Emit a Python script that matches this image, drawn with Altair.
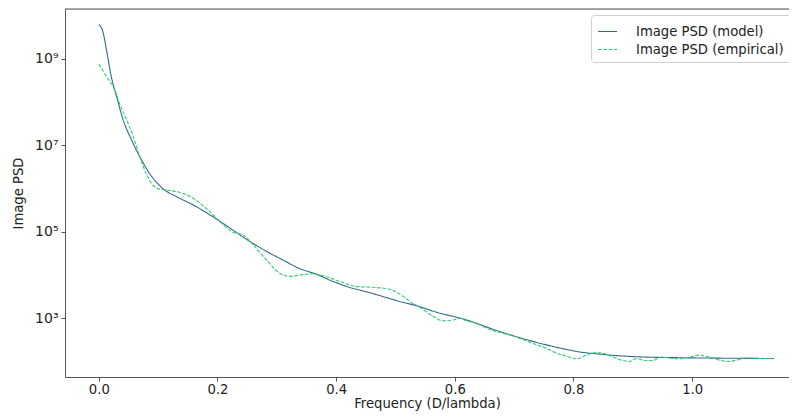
import altair as alt
import pandas as pd

# Model curve
freq_model = [0.0, 0.006, 0.013, 0.021, 0.030, 0.041, 0.055, 0.069, 0.086, 0.108,
              0.131, 0.159, 0.193, 0.226, 0.256, 0.283, 0.311, 0.339, 0.362, 0.395,
              0.424, 0.451, 0.507, 0.541, 0.564, 0.620, 0.676, 0.732, 0.788, 0.810,
              0.844, 0.868, 0.923, 0.979, 1.050, 1.138]
psd_model = [6.2e9, 4.7e9, 1.6e9, 3.9e8, 1.35e8, 3.9e7, 1.35e7, 5.5e6, 2.2e6, 1.0e6,
             6.5e5, 4.2e5, 2.2e5, 1.1e5, 5.8e4, 3.5e4, 2.2e4, 1.4e4, 1.1e4, 7.1e3,
             5.1e3, 4.1e3, 2.45e3, 1.85e3, 1.45e3, 9.1e2, 4.9e2, 2.9e2, 1.9e2, 1.66e2,
             1.48e2, 1.38e2, 1.26e2, 1.22e2, 1.19e2, 1.17e2]

# Empirical curve
freq_emp = [0.0, 0.013, 0.027, 0.035, 0.047, 0.058, 0.069, 0.080, 0.089, 0.100,
            0.114, 0.137, 0.159, 0.176, 0.193, 0.210, 0.226, 0.243, 0.260, 0.283,
            0.305, 0.322, 0.339, 0.360, 0.384, 0.406, 0.434, 0.462, 0.490, 0.513,
            0.524, 0.541, 0.564, 0.580, 0.597, 0.608, 0.620, 0.637, 0.653, 0.676,
            0.698, 0.715, 0.732, 0.755, 0.772, 0.783, 0.805, 0.822, 0.838, 0.850,
            0.867, 0.884, 0.895, 0.906, 0.923, 0.934, 0.948, 0.968, 0.982, 0.996,
            1.010, 1.025, 1.047, 1.061, 1.075, 1.092, 1.109, 1.125, 1.138]
psd_emp = [7.6e8, 3.9e8, 1.9e8, 9.3e7, 3.9e7, 1.6e7, 5.5e6, 2.2e6, 1.3e6, 1.0e6,
           9.3e5, 8.1e5, 6.0e5, 4.0e5, 2.45e5, 1.45e5, 9.8e4, 8.5e4, 5.0e4, 2.2e4,
           1.1e4, 9.3e3, 1.0e4, 1.07e4, 9.1e3, 7.1e3, 5.4e3, 5.2e3, 4.7e3, 3.2e3,
           2.45e3, 1.8e3, 1.1e3, 8.7e2, 9.1e2, 1.0e3, 8.7e2, 7.6e2, 5.9e2, 4.7e2,
           3.9e2, 3.2e2, 2.6e2, 2.0e2, 1.55e2, 1.4e2, 1.15e2, 1.4e2, 1.6e2, 1.55e2,
           1.26e2, 1.05e2, 1.0e2, 1.15e2, 1.05e2, 1.05e2, 1.26e2, 1.17e2, 1.15e2, 1.26e2,
           1.4e2, 1.3e2, 1.07e2, 1.0e2, 1.07e2, 1.2e2, 1.17e2, 1.17e2, 1.15e2]

series_names = ["Image PSD (model)", "Image PSD (empirical)"]
series_colors = ["#31688e", "#2ecc71"]
y_ticks = [1e3, 1e5, 1e7, 1e9]
x_ticks = [0.0, 0.2, 0.4, 0.6, 0.8, 1.0]

df = pd.concat([
    pd.DataFrame({"freq": freq_model, "psd": psd_model, "series": series_names[0], "order": 0}),
    pd.DataFrame({"freq": freq_emp, "psd": psd_emp, "series": series_names[1], "order": 1}),
])

W, H = 724, 368
FONT = "DejaVu Sans"

legend_cfg = dict(title=None, orient="none", legendX=526, legendY=6,
                  symbolType="stroke", symbolSize=361, symbolStrokeWidth=1.2,
                  labelOffset=18, rowPadding=1, padding=6, strokeColor="#d0d0d0",
                  cornerRadius=3, fillColor="white", labelFontSize=13.2,
                  labelFont=FONT, labelColor="#222", labelLimit=300)

lines = alt.Chart(df).mark_line(interpolate="monotone", strokeWidth=1.1, clip=True).encode(
    x=alt.X("freq:Q",
            scale=alt.Scale(domain=[-0.057, 1.1633], nice=False, zero=False),
            axis=alt.Axis(values=x_ticks, format=".1f", title="Frequency (D/lambda)",
                          grid=False, tickSize=4, labelPadding=2, titlePadding=2,
                          domainColor="#555", tickColor="#555", labelColor="#222",
                          titleColor="#222", labelFontSize=13.2, titleFontSize=13.2,
                          labelFont=FONT, titleFont=FONT, titleFontWeight="normal")),
    y=alt.Y("psd:Q",
            scale=alt.Scale(type="log", domain=[10**1.64, 10**10.157], nice=False),
            axis=alt.Axis(values=y_ticks, title="Image PSD", grid=False, tickSize=4,
                          labelPadding=3, titlePadding=9,
                          labelExpr="datum.value == 1e3 ? '10³' : datum.value == 1e5 ? '10⁵' : datum.value == 1e7 ? '10⁷' : '10⁹'",
                          domainColor="#555", tickColor="#555", labelColor="#222",
                          titleColor="#222", labelFontSize=14, titleFontSize=13.2,
                          labelFont=FONT, titleFont=FONT, titleFontWeight="normal")),
    color=alt.Color("series:N", sort=series_names,
                    scale=alt.Scale(domain=series_names, range=series_colors),
                    legend=alt.Legend(**legend_cfg)),
    strokeDash=alt.StrokeDash("series:N", sort=series_names,
                              scale=alt.Scale(domain=series_names, range=[[1, 0], [3.7, 1.6]]),
                              legend=alt.Legend(**legend_cfg)),
    order="order:Q",
    detail="series:N",
)

top_spine = alt.Chart(pd.DataFrame({"s": [0]})).mark_rule(color="#555", strokeWidth=1).encode(
    x=alt.value(0), x2=alt.value(W), y=alt.value(0)
)

chart = alt.layer(lines, top_spine).properties(
    width=W, height=H,
    autosize=alt.AutoSizeParams(type="none"),
    padding={"left": 57, "top": 1, "right": 0, "bottom": 35},
).configure_view(stroke=None).configure(background="white")

chart.save("out.html", embed_options={"renderer": "svg", "actions": False})
